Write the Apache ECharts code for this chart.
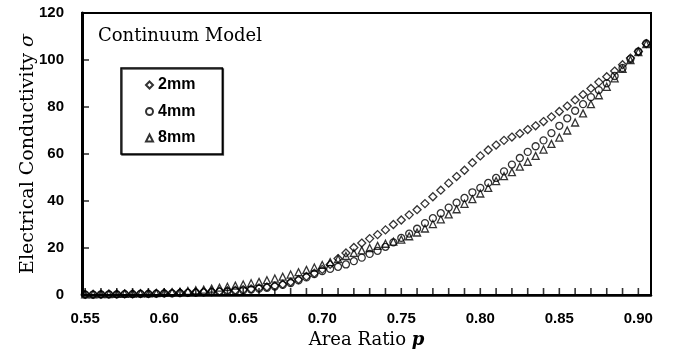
<!DOCTYPE html>
<html>
<head>
<meta charset="utf-8">
<script src="https://cdn.jsdelivr.net/npm/echarts@6/dist/echarts.min.js"></script>
<style>
  html, body { margin: 0; padding: 0; background: #fff; }
  #chart { width: 673px; height: 358px; }
</style>
</head>
<body>
<div id="chart"></div>
<script>
// area ratio p, one point every 0.005
const ratio = [
  0.550, 0.555, 0.560, 0.565, 0.570, 0.575, 0.580, 0.585, 0.590, 0.595,
  0.600, 0.605, 0.610, 0.615, 0.620, 0.625, 0.630, 0.635, 0.640, 0.645,
  0.650, 0.655, 0.660, 0.665, 0.670, 0.675, 0.680, 0.685, 0.690, 0.695,
  0.700, 0.705, 0.710, 0.715, 0.720, 0.725, 0.730, 0.735, 0.740, 0.745,
  0.750, 0.755, 0.760, 0.765, 0.770, 0.775, 0.780, 0.785, 0.790, 0.795,
  0.800, 0.805, 0.810, 0.815, 0.820, 0.825, 0.830, 0.835, 0.840, 0.845,
  0.850, 0.855, 0.860, 0.865, 0.870, 0.875, 0.880, 0.885, 0.890, 0.895,
  0.900, 0.905
]

const sigma2mm = [
  0.3, 0.3, 0.3, 0.4, 0.4, 0.5, 0.5, 0.6, 0.6, 0.7,
  0.8, 0.9, 1.0, 1.1, 1.2, 1.3, 1.5, 1.6, 1.8, 2.0,
  2.3, 2.6, 3.0, 3.4, 3.9, 4.6, 5.5, 6.6, 7.9, 9.3,
  10.9, 13.0, 15.5, 17.9, 20.2, 22.1, 24.0, 25.7, 27.7, 30.0,
  31.9, 34.1, 36.3, 38.9, 41.8, 44.6, 47.6, 50.4, 53.1, 56.3,
  59.2, 61.7, 63.8, 65.8, 67.2, 68.7, 70.4, 72.0, 73.8, 75.8,
  78.1, 80.4, 83.0, 85.3, 87.9, 90.6, 92.9, 95.3, 98.0, 100.8,
  103.6, 107.0
]

const sigma4mm = [
  0.2, 0.2, 0.3, 0.3, 0.3, 0.4, 0.4, 0.5, 0.5, 0.6,
  0.7, 0.7, 0.8, 0.9, 1.0, 1.1, 1.2, 1.4, 1.5, 1.7,
  2.0, 2.3, 2.7, 3.1, 3.6, 4.3, 5.1, 6.2, 7.5, 8.9,
  10.2, 11.1, 12.0, 13.0, 14.4, 15.9, 17.5, 18.8, 20.5, 22.4,
  24.3, 26.1, 28.2, 30.6, 32.7, 34.8, 37.2, 39.3, 41.3, 43.7,
  45.6, 47.7, 49.8, 52.6, 55.5, 58.3, 60.9, 63.3, 65.8, 68.9,
  72.0, 75.2, 78.4, 81.2, 84.2, 87.2, 90.1, 93.2, 96.6, 100.4,
  103.6, 107.1
]

const sigma8mm = [
  0.3, 0.3, 0.4, 0.4, 0.5, 0.5, 0.6, 0.7, 0.7, 0.8,
  1.0, 1.2, 1.4, 1.7, 2.0, 2.3, 2.7, 3.1, 3.5, 4.0,
  4.5, 5.0, 5.6, 6.3, 7.0, 7.8, 8.7, 9.7, 10.7, 11.7,
  12.8, 14.0, 15.3, 16.6, 17.9, 19.0, 20.0, 20.9, 21.8, 22.7,
  23.6, 25.0, 26.6, 28.3, 30.2, 32.2, 34.3, 36.5, 38.8, 40.8,
  43.2, 45.6, 48.5, 50.6, 52.3, 54.6, 56.7, 59.2, 61.9, 64.3,
  67.0, 70.0, 73.4, 77.3, 81.2, 85.0, 88.6, 92.2, 96.2, 100.0,
  103.4, 106.8
]

const xMin = 0.548
const xMax = 0.908
const xLabels = [0.55, 0.60, 0.65, 0.70, 0.75, 0.80, 0.85, 0.90]
const xTicks = [
  0.55, 0.56, 0.57, 0.58, 0.59, 0.60, 0.61, 0.62, 0.63, 0.64,
  0.65, 0.66, 0.67, 0.68, 0.69, 0.70, 0.71, 0.72, 0.73, 0.74,
  0.75, 0.76, 0.77, 0.78, 0.79, 0.80, 0.81, 0.82, 0.83, 0.84,
  0.85, 0.86, 0.87, 0.88, 0.89, 0.90
]
const yTicks = [20, 40, 60, 80, 100]

const toPairs = (ys) => ratio.map((p, i) => [p, ys[i]])

const sans = '"Liberation Sans", Arial, sans-serif'
const serif = '"DejaVu Serif", "Liberation Serif", serif'

const markerStyle = { color: 'rgba(0,0,0,0)', borderColor: '#000', borderWidth: 1.3 }

const chart = echarts.init(document.getElementById('chart'), null, { renderer: 'canvas' })

chart.setOption({
  animation: false,
  backgroundColor: '#fff',
  title: {
    text: 'Continuum Model',
    left: 93, top: 22,
    textStyle: { fontFamily: serif, fontSize: 18, fontWeight: 'normal', color: '#000' },
  },
  legend: {
    orient: 'vertical',
    left: 121, top: 68,
    padding: [9, 27, 8, 24],
    itemWidth: 7, itemHeight: 7, itemGap: 10.5,
    backgroundColor: '#fff',
    borderColor: '#000', borderWidth: 1.5,
    shadowColor: 'rgba(0,0,0,0.7)', shadowOffsetX: 1, shadowOffsetY: 1,
    textStyle: { fontFamily: sans, fontSize: 16, fontWeight: 'bold', color: '#000', lineHeight: 16 },
    data: ['2mm', '4mm', '8mm'],
  },
  grid: {
    left: 82, right: 22, top: 13, bottom: 63,
    show: true, borderColor: '#000', borderWidth: 2,
  },
  xAxis: {
    type: 'value',
    min: xMin, max: xMax,
    name: '{a|Area Ratio }{i|p}',
    nameLocation: 'middle', nameGap: 36, nameMoveOverlap: false,
    nameTextStyle: {
      rich: {
        a: { fontFamily: serif, fontSize: 18, color: '#000' },
        i: { fontFamily: serif, fontSize: 18, fontStyle: 'italic', fontWeight: 'bold', color: '#000' },
      },
    },
    axisLine: { lineStyle: { color: '#000', width: 2.5 } },
    axisTick: { show: false },
    axisLabel: {
      customValues: xLabels, margin: 16,
      fontFamily: sans, fontSize: 15, fontWeight: 'bold', color: '#000',
      formatter: (v) => v.toFixed(2),
    },
    splitLine: { show: false },
  },
  yAxis: {
    type: 'value',
    min: 0, max: 120, interval: 20,
    name: '{a|Electrical Conductivity }{i|σ}',
    nameLocation: 'middle', nameGap: 44, nameRotate: 90, nameMoveOverlap: false,
    nameTextStyle: {
      rich: {
        a: { fontFamily: serif, fontSize: 19, color: '#000' },
        i: { fontFamily: serif, fontSize: 19, fontStyle: 'italic', color: '#000' },
      },
    },
    axisLine: { show: true, lineStyle: { color: '#000', width: 3 } },
    axisTick: { show: false },
    axisLabel: { margin: 18, fontFamily: sans, fontSize: 15, fontWeight: 'bold', color: '#000' },
    splitLine: { show: false },
  },
  series: [
    // inward tick marks, placed by the axes at the tick values
    {
      type: 'scatter', silent: true, clip: false, z: 1,
      symbol: 'rect', symbolSize: [1.6, 7], symbolOffset: [0, -3.5],
      itemStyle: { color: '#000' },
      data: xTicks.map((v) => [v, 0]),
    },
    {
      type: 'scatter', silent: true, clip: false, z: 1,
      symbol: 'rect', symbolSize: [7, 1.6], symbolOffset: [3.5, 0],
      itemStyle: { color: '#000' },
      data: yTicks.map((v) => [xMin, v]),
    },
    { name: '2mm', type: 'scatter', symbol: 'diamond', symbolSize: 8, itemStyle: markerStyle, data: toPairs(sigma2mm) },
    { name: '4mm', type: 'scatter', symbol: 'circle', symbolSize: 7, itemStyle: markerStyle, data: toPairs(sigma4mm) },
    { name: '8mm', type: 'scatter', symbol: 'triangle', symbolSize: 7, itemStyle: markerStyle, data: toPairs(sigma8mm) },
  ],
})
</script>
</body>
</html>
